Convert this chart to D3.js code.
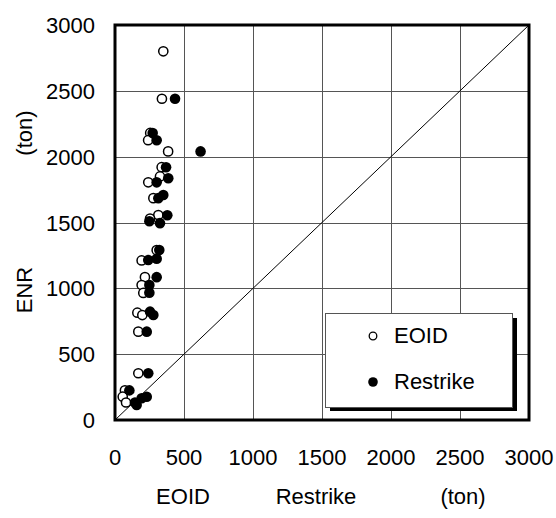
<!DOCTYPE html>
<html>
<head>
<meta charset="utf-8">
<script src="https://cdn.jsdelivr.net/npm/d3@7/dist/d3.min.js"></script>
<style>
	body { margin: 0; background: #fff; }
	text { font-family: "Liberation Sans", Arial, sans-serif; fill: #000; }
</style>
</head>
<body>
<div id="chart"></div>
<script>
// data (ton)
const eoidX = [350, 340, 255, 240, 385, 338, 326, 241, 278, 314, 254, 302, 193, 217, 193, 205, 162, 198, 169, 169, 72, 56, 80];
const eoidY = [2800, 2440, 2180, 2125, 2040, 1920, 1850, 1805, 1685, 1557, 1530, 1290, 1212, 1085, 1025, 965, 815, 797, 671, 355, 225, 177, 133];
const restrikeX = [435, 273, 302, 620, 370, 386, 302, 314, 350, 379, 249, 326, 321, 241, 302, 302, 249, 249, 254, 278, 230, 241, 104, 145, 157, 193, 230];
const restrikeY = [2440, 2180, 2125, 2040, 1920, 1836, 1805, 1685, 1709, 1555, 1510, 1495, 1291, 1215, 1225, 1085, 1025, 967, 823, 797, 671, 355, 225, 133, 114, 165, 177];
const ticks = [0, 500, 1000, 1500, 2000, 2500, 3000];

const width = 556, height = 518;
const plot = { left: 115, right: 529, top: 25, bottom: 420 };
const fontSize = "22px";

const x = d3.scaleLinear().domain([0, 3000]).range([plot.left, plot.right]);
const y = d3.scaleLinear().domain([0, 3000]).range([plot.bottom, plot.top]);

const svg = d3.select("#chart").append("svg")
	.attr("width", width)
	.attr("height", height);

// grid
const grid = svg.append("g").attr("stroke", "#555").attr("stroke-width", 1);
grid.selectAll("line.v")
	.data(ticks.slice(1, -1))
	.join("line")
	.attr("class", "v")
	.attr("x1", d => Math.round(x(d)) + 0.5).attr("x2", d => Math.round(x(d)) + 0.5)
	.attr("y1", plot.top).attr("y2", plot.bottom);
grid.selectAll("line.h")
	.data(ticks.slice(1, -1))
	.join("line")
	.attr("class", "h")
	.attr("y1", d => Math.round(y(d)) + 0.5).attr("y2", d => Math.round(y(d)) + 0.5)
	.attr("x1", plot.left).attr("x2", plot.right);

// 1:1 line
svg.append("line")
	.attr("x1", x(0)).attr("y1", y(0))
	.attr("x2", x(3000)).attr("y2", y(3000))
	.attr("stroke", "#000").attr("stroke-width", 1);

// points
const eoid = eoidX.map((v, i) => [v, eoidY[i]]);
const restrike = restrikeX.map((v, i) => [v, restrikeY[i]]);

svg.append("g").selectAll("circle")
	.data(eoid)
	.join("circle")
	.attr("cx", d => x(d[0])).attr("cy", d => y(d[1]))
	.attr("r", 4.6)
	.attr("fill", "#fff").attr("stroke", "#000").attr("stroke-width", 1.5);

svg.append("g").selectAll("circle")
	.data(restrike)
	.join("circle")
	.attr("cx", d => x(d[0])).attr("cy", d => y(d[1]))
	.attr("r", 5.3)
	.attr("fill", "#000");

// frame
svg.append("rect")
	.attr("x", plot.left).attr("y", plot.top)
	.attr("width", plot.right - plot.left).attr("height", plot.bottom - plot.top)
	.attr("fill", "none").attr("stroke", "#000").attr("stroke-width", 3);

// tick labels
svg.append("g").selectAll("text")
	.data(ticks)
	.join("text")
	.attr("x", d => x(d)).attr("y", 465)
	.attr("text-anchor", "middle")
	.style("font-size", fontSize)
	.text(d => d);

svg.append("g").selectAll("text")
	.data(ticks)
	.join("text")
	.attr("x", 95).attr("y", d => y(d) + 8)
	.attr("text-anchor", "end")
	.style("font-size", fontSize)
	.text(d => d);

// axis titles
const xTitles = [["EOID", 183], ["Restrike", 316], ["(ton)", 463]];
svg.append("g").selectAll("text")
	.data(xTitles)
	.join("text")
	.attr("x", d => d[1]).attr("y", 504)
	.attr("text-anchor", "middle")
	.style("font-size", fontSize)
	.text(d => d[0]);

const yTitles = [["ENR", 290], ["(ton)", 133]];
svg.append("g").selectAll("text")
	.data(yTitles)
	.join("text")
	.attr("transform", d => `translate(32,${d[1]}) rotate(-90)`)
	.attr("text-anchor", "middle")
	.style("font-size", fontSize)
	.text(d => d[0]);

// legend
const lg = svg.append("g");
lg.append("rect")
	.attr("x", 330).attr("y", 318).attr("width", 187).attr("height", 93)
	.attr("fill", "#000");
lg.append("rect")
	.attr("x", 325.5).attr("y", 313.5).attr("width", 187).attr("height", 94)
	.attr("fill", "#fff").attr("stroke", "#555").attr("stroke-width", 1);
lg.append("circle")
	.attr("cx", 373).attr("cy", 336).attr("r", 3.8)
	.attr("fill", "#fff").attr("stroke", "#000").attr("stroke-width", 1.3);
lg.append("circle")
	.attr("cx", 373).attr("cy", 382).attr("r", 4.8)
	.attr("fill", "#000");
lg.append("text").attr("x", 394).attr("y", 343).style("font-size", fontSize).text("EOID");
lg.append("text").attr("x", 394).attr("y", 389).style("font-size", fontSize).text("Restrike");
</script>
</body>
</html>
